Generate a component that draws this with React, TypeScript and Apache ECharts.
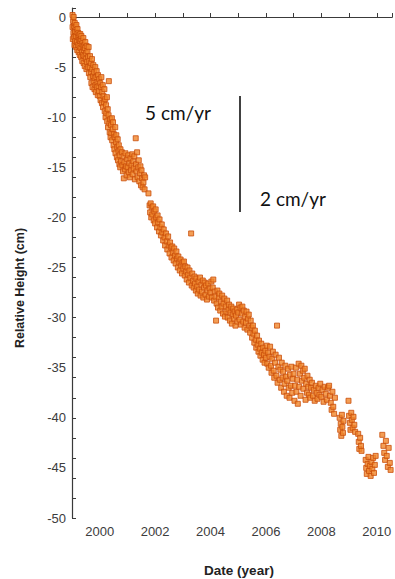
import React, { useEffect, useRef } from 'react';
import * as echarts from 'echarts';

// [year, relative height (cm)]
const samples1999: [number, number][] = [
  [1999.02, 0.2], [1999.02, -1.0], [1999.03, -2.2], [1999.04, -0.4], [1999.05, -1.6], [1999.06, 0.0],
  [1999.07, -0.9], [1999.08, -2.0], [1999.09, -2.8], [1999.10, -0.6], [1999.11, -1.4], [1999.12, -2.4],
  [1999.13, -1.0], [1999.14, -1.9], [1999.15, -3.0], [1999.16, -0.8], [1999.17, -1.5], [1999.18, -2.5],
  [1999.19, -3.3], [1999.20, -1.2], [1999.21, -2.0], [1999.22, -2.8], [1999.23, -1.6], [1999.24, -3.5],
  [1999.25, -2.3], [1999.26, -1.8], [1999.27, -2.9], [1999.28, -3.8], [1999.29, -2.4], [1999.30, -1.7],
  [1999.31, -3.1], [1999.32, -2.2], [1999.33, -4.0], [1999.34, -1.9], [1999.35, -2.7], [1999.36, -3.5],
  [1999.37, -4.4], [1999.38, -2.4], [1999.39, -3.0], [1999.40, -3.8], [1999.41, -2.1], [1999.42, -4.6],
  [1999.43, -3.3], [1999.44, -2.8], [1999.45, -3.9], [1999.46, -4.9], [1999.47, -3.1], [1999.48, -2.5],
  [1999.50, -4.2], [1999.51, -3.6], [1999.52, -5.2], [1999.53, -2.9], [1999.54, -4.5], [1999.56, -3.4],
  [1999.57, -5.0], [1999.58, -4.0], [1999.60, -3.0], [1999.61, -5.6], [1999.62, -4.4],
  [1999.64, -5.0], [1999.65, -3.9], [1999.66, -6.0], [1999.68, -4.6], [1999.69, -5.5], [1999.70, -6.6],
  [1999.72, -4.2], [1999.73, -5.2], [1999.74, -7.0], [1999.76, -5.9], [1999.77, -4.8], [1999.78, -6.4],
  [1999.80, -5.5], [1999.81, -7.2], [1999.82, -6.1], [1999.84, -5.0], [1999.85, -6.8], [1999.86, -7.5],
  [1999.88, -6.0], [1999.89, -5.4], [1999.90, -7.0], [1999.92, -6.5], [1999.93, -7.8], [1999.94, -5.8],
  [1999.96, -6.9], [1999.97, -7.4], [1999.98, -6.2],
];

const samples2000: [number, number][] = [
  [2000.00, -7.9], [2000.02, -6.6], [2000.03, -8.3], [2000.05, -7.0], [2000.06, -6.0], [2000.08, -8.6],
  [2000.09, -7.5], [2000.11, -6.8], [2000.12, -9.0], [2000.14, -7.9], [2000.15, -8.5], [2000.17, -7.2],
  [2000.18, -9.4], [2000.20, -8.2], [2000.21, -10.0], [2000.23, -8.8], [2000.24, -9.6], [2000.26, -8.0],
  [2000.27, -10.4], [2000.29, -9.2], [2000.30, -11.0], [2000.32, -9.8], [2000.33, -6.4], [2000.35, -10.6],
  [2000.36, -11.5], [2000.38, -10.2], [2000.39, -12.0],
  [2000.41, -10.8], [2000.42, -11.6], [2000.44, -10.1], [2000.45, -12.3], [2000.47, -11.2], [2000.48, -10.5],
  [2000.50, -12.8], [2000.51, -11.7], [2000.53, -13.2], [2000.54, -12.0], [2000.56, -11.0], [2000.57, -13.6],
  [2000.59, -12.5], [2000.60, -11.8], [2000.62, -14.0], [2000.63, -13.0], [2000.65, -12.2], [2000.66, -14.3],
  [2000.68, -13.4], [2000.69, -12.8], [2000.71, -14.7], [2000.72, -13.8], [2000.74, -15.0], [2000.75, -13.2],
  [2000.77, -14.4], [2000.80, -13.5], [2000.82, -14.8], [2000.84, -15.4], [2000.86, -13.9], [2000.87, -16.1],
  [2000.89, -14.5], [2000.91, -15.2], [2000.93, -13.6], [2000.95, -14.9], [2000.97, -15.8], [2000.99, -14.2],
];

const samples2001: [number, number][] = [
  [2001.01, -15.0], [2001.03, -13.8], [2001.05, -15.5], [2001.07, -14.6], [2001.09, -16.0], [2001.11, -14.1],
  [2001.13, -15.3], [2001.15, -14.8], [2001.17, -13.7], [2001.19, -15.7], [2001.21, -14.4], [2001.23, -15.1],
  [2001.25, -13.9], [2001.27, -16.2], [2001.30, -12.1], [2001.31, -14.7], [2001.33, -15.4], [2001.35, -13.5],
  [2001.37, -16.0], [2001.39, -15.0], [2001.41, -14.3], [2001.43, -16.4], [2001.45, -15.6], [2001.47, -14.9],
  [2001.49, -16.8], [2001.51, -15.3], [2001.53, -16.1], [2001.55, -17.0], [2001.58, -16.5], [2001.60, -15.8],
  [2001.62, -17.2], [2001.64, -16.0], [2001.76, -17.6],
  [2001.80, -18.8], [2001.82, -19.5], [2001.84, -18.6], [2001.86, -20.0], [2001.88, -19.0], [2001.90, -19.7],
  [2001.93, -18.9], [2001.95, -20.3], [2001.97, -19.4],
];

const samples2002: [number, number][] = [
  [2002.00, -20.6], [2002.02, -19.2], [2002.04, -20.0], [2002.07, -21.0], [2002.09, -19.8], [2002.11, -20.5],
  [2002.14, -21.4], [2002.16, -20.2], [2002.19, -21.0], [2002.21, -21.8], [2002.24, -20.7], [2002.26, -21.5],
  [2002.29, -22.3], [2002.31, -21.2], [2002.34, -22.0], [2002.36, -22.8], [2002.39, -21.6],
  [2002.42, -22.4], [2002.44, -23.2], [2002.47, -21.9], [2002.49, -22.8], [2002.52, -23.6], [2002.54, -22.5],
  [2002.57, -23.0], [2002.59, -24.0], [2002.62, -22.9], [2002.64, -23.5], [2002.67, -24.3], [2002.69, -23.1],
  [2002.72, -23.8], [2002.74, -24.6], [2002.77, -23.4], [2002.79, -24.1], [2002.82, -25.0], [2002.84, -23.9],
  [2002.87, -24.5], [2002.89, -25.3], [2002.92, -24.2], [2002.94, -24.8], [2002.97, -25.6], [2002.99, -24.5],
];

const samples2003: [number, number][] = [
  [2003.02, -25.1], [2003.04, -24.4], [2003.07, -25.8], [2003.09, -24.9], [2003.12, -25.4], [2003.14, -26.2],
  [2003.17, -25.0], [2003.19, -25.7], [2003.22, -26.5], [2003.24, -25.3], [2003.27, -26.0], [2003.30, -21.6],
  [2003.32, -26.8], [2003.34, -25.6], [2003.37, -26.3], [2003.39, -27.0], [2003.42, -25.9], [2003.44, -26.6],
  [2003.47, -27.3], [2003.49, -26.1], [2003.52, -26.9], [2003.54, -27.6], [2003.57, -26.4], [2003.59, -27.2],
  [2003.62, -26.0], [2003.64, -27.8], [2003.67, -26.7], [2003.69, -27.4], [2003.72, -26.3], [2003.74, -28.0],
  [2003.77, -27.0], [2003.79, -26.5], [2003.82, -27.7], [2003.84, -26.8], [2003.87, -28.2], [2003.89, -27.3],
  [2003.92, -26.6], [2003.94, -27.9], [2003.97, -27.1],
];

const samples2004: [number, number][] = [
  [2004.00, -27.5], [2004.03, -26.4], [2004.05, -28.0], [2004.08, -27.0], [2004.10, -26.2], [2004.13, -28.3],
  [2004.15, -27.4], [2004.18, -27.9], [2004.20, -30.3], [2004.22, -28.6], [2004.25, -27.3], [2004.27, -29.0],
  [2004.30, -28.0], [2004.32, -27.6], [2004.35, -29.3], [2004.37, -28.4], [2004.40, -28.9], [2004.42, -27.8],
  [2004.45, -29.6], [2004.47, -28.6], [2004.50, -28.1], [2004.52, -29.9], [2004.55, -28.9], [2004.57, -29.4],
  [2004.60, -28.3], [2004.62, -30.0], [2004.65, -29.2], [2004.67, -28.7], [2004.70, -30.3], [2004.72, -29.5],
  [2004.75, -28.9], [2004.77, -30.6], [2004.80, -29.7], [2004.82, -29.1], [2004.85, -30.1], [2004.87, -29.4],
  [2004.90, -30.8], [2004.92, -29.8], [2004.95, -29.2], [2004.97, -30.4],
];

const samples2005: [number, number][] = [
  [2005.00, -29.5], [2005.03, -28.7], [2005.05, -30.2], [2005.08, -29.0], [2005.10, -30.7], [2005.13, -29.6],
  [2005.15, -28.9], [2005.18, -30.4], [2005.20, -29.3], [2005.23, -31.0], [2005.25, -29.9], [2005.28, -30.5],
  [2005.30, -29.4], [2005.33, -31.2], [2005.35, -30.1], [2005.38, -29.7], [2005.40, -30.8], [2005.43, -31.5],
  [2005.45, -30.3], [2005.48, -31.0], [2005.50, -32.0], [2005.53, -30.8], [2005.55, -31.6], [2005.58, -32.5],
  [2005.60, -31.3], [2005.63, -32.2], [2005.65, -33.0], [2005.68, -31.8], [2005.70, -32.7], [2005.73, -33.4],
  [2005.75, -32.3], [2005.78, -33.1], [2005.80, -33.8], [2005.83, -32.6], [2005.85, -33.5], [2005.88, -34.2],
  [2005.90, -33.0], [2005.93, -33.7], [2005.95, -34.5], [2005.98, -33.3],
];

const samples2006: [number, number][] = [
  [2006.00, -34.0], [2006.03, -32.8], [2006.05, -34.6], [2006.08, -33.5], [2006.10, -35.0], [2006.13, -33.9],
  [2006.15, -32.9], [2006.18, -34.8], [2006.20, -35.5], [2006.23, -34.1], [2006.25, -33.4], [2006.28, -35.3],
  [2006.30, -36.0], [2006.33, -34.5], [2006.35, -33.7], [2006.38, -35.8], [2006.40, -30.8], [2006.42, -36.5],
  [2006.45, -34.9], [2006.47, -34.0], [2006.50, -36.2], [2006.52, -35.2], [2006.55, -37.0], [2006.57, -34.5],
  [2006.60, -36.0], [2006.62, -35.4], [2006.65, -37.4], [2006.67, -36.6], [2006.70, -34.8], [2006.72, -35.9],
  [2006.75, -37.8], [2006.77, -36.3], [2006.80, -35.1], [2006.82, -37.0], [2006.85, -38.0], [2006.87, -35.7],
  [2006.90, -36.8], [2006.92, -34.9], [2006.95, -37.5], [2006.97, -36.1],
];

const samples2007: [number, number][] = [
  [2007.00, -35.6], [2007.03, -38.3], [2007.05, -36.8], [2007.08, -35.0], [2007.10, -37.4], [2007.13, -36.2],
  [2007.15, -38.6], [2007.18, -34.6], [2007.20, -36.9], [2007.23, -35.6], [2007.25, -37.8], [2007.28, -34.8],
  [2007.30, -36.3], [2007.33, -35.3], [2007.35, -37.1], [2007.38, -36.0], [2007.40, -35.1], [2007.43, -38.2],
  [2007.45, -36.6], [2007.48, -37.5], [2007.50, -35.8], [2007.53, -36.9], [2007.55, -37.7], [2007.58, -36.2],
  [2007.60, -38.0], [2007.63, -37.0], [2007.66, -36.5], [2007.70, -37.8], [2007.73, -37.2], [2007.76, -38.3],
  [2007.80, -36.8], [2007.83, -37.5], [2007.86, -38.1], [2007.90, -37.0], [2007.93, -37.7], [2007.96, -36.6],
];

const samples2008: [number, number][] = [
  [2008.00, -37.9], [2008.04, -37.2], [2008.08, -38.4], [2008.12, -36.9], [2008.16, -37.6], [2008.20, -38.2],
  [2008.24, -37.0], [2008.28, -36.8], [2008.31, -37.8], [2008.34, -38.5], [2008.37, -39.2], [2008.40, -37.4],
  [2008.43, -38.9], [2008.46, -39.6], [2008.49, -38.0],
  [2008.66, -40.0], [2008.68, -41.2], [2008.70, -40.6], [2008.72, -41.8], [2008.74, -39.7], [2008.76, -40.9],
  [2008.78, -41.5], [2008.80, -40.3], [2008.98, -38.3],
];

const samples2009: [number, number][] = [
  [2009.00, -39.8], [2009.03, -40.5], [2009.05, -41.2], [2009.08, -39.5], [2009.10, -40.2], [2009.13, -41.0],
  [2009.16, -39.9], [2009.19, -40.7], [2009.22, -41.4],
  [2009.33, -41.6], [2009.35, -42.4], [2009.37, -43.1], [2009.40, -42.0], [2009.43, -42.8], [2009.45, -43.3],
  [2009.60, -44.2], [2009.62, -45.0], [2009.64, -45.6], [2009.67, -44.6], [2009.70, -43.9], [2009.72, -45.3],
  [2009.75, -44.8], [2009.78, -45.8], [2009.81, -44.4], [2009.84, -45.1], [2009.87, -44.0], [2009.90, -45.5],
  [2009.93, -44.7], [2009.96, -43.8],
];

const samples2010: [number, number][] = [
  [2010.20, -41.7], [2010.24, -42.8], [2010.27, -43.5], [2010.30, -44.2], [2010.33, -42.3], [2010.36, -43.8],
  [2010.40, -44.9], [2010.43, -43.0], [2010.47, -44.5], [2010.50, -45.2],
];

const yTickLabels = [0, -5, -10, -15, -20, -25, -30, -35, -40, -45, -50];
const xTickLabels = [2000, 2002, 2004, 2006, 2008, 2010];

const yAxisTitle = 'Relative Height (cm)';
const xAxisTitle = 'Date (year)';
const rateLabels = ['5 cm/yr', '2 cm/yr'];

const AXIS_COLOR = '#3a3a3a';
const LABEL_COLOR = '#3c3c3c';
const X_MIN = 1999;
const X_MAX = 2010.55;

export default function App() {
  const ref = useRef<HTMLDivElement>(null);

  useEffect(() => {
    document.body.style.margin = '0';
    if (!ref.current) return;
    const chart = echarts.init(ref.current, undefined, { renderer: 'svg' });
    const data = [
      ...samples1999, ...samples2000, ...samples2001, ...samples2002, ...samples2003,
      ...samples2004, ...samples2005, ...samples2006, ...samples2007, ...samples2008,
      ...samples2009, ...samples2010,
    ];
    const option: any = {
      animation: false,
      backgroundColor: '#ffffff',
      grid: { left: 72, right: 0, top: 8, bottom: 61, containLabel: false },
      xAxis: [
        {
          type: 'value',
          position: 'bottom',
          min: X_MIN,
          max: X_MAX,
          interval: 1,
          axisLine: { show: true, lineStyle: { color: AXIS_COLOR, width: 1.2 } },
          axisTick: { show: true, inside: true, length: 4, lineStyle: { color: AXIS_COLOR, width: 1 } },
          axisLabel: {
            formatter: (v: number) => (xTickLabels.includes(Math.round(v * 1000) / 1000) ? String(Math.round(v)) : ''),
            color: LABEL_COLOR,
            fontSize: 13,
            fontFamily: 'Liberation Sans, Arial, sans-serif',
            margin: 7,
          },
          splitLine: { show: false },
        },
        {
          type: 'value',
          position: 'top',
          min: X_MIN,
          max: X_MAX,
          axisLine: { show: true, lineStyle: { color: AXIS_COLOR, width: 1.2 } },
          axisTick: { show: false },
          axisLabel: { show: false },
          splitLine: { show: false },
        },
      ],
      yAxis: [
        {
          type: 'value',
          position: 'left',
          min: -50,
          max: 0.9,
          interval: 2,
          axisLine: { show: true, lineStyle: { color: AXIS_COLOR, width: 1.2 } },
          axisTick: { show: true, inside: true, length: 4, lineStyle: { color: AXIS_COLOR, width: 1 } },
          axisLabel: { show: false },
          splitLine: { show: false },
        },
        {
          type: 'value',
          position: 'left',
          min: -50,
          max: 0.9,
          interval: 5,
          axisLine: { show: false },
          axisTick: { show: false },
          axisLabel: {
            formatter: (v: number) => (yTickLabels.includes(Math.round(v * 1000) / 1000) ? String(Math.round(v)) : ''),
            color: LABEL_COLOR,
            fontSize: 13,
            fontFamily: 'Liberation Sans, Arial, sans-serif',
            margin: 6,
          },
          splitLine: { show: false },
        },
      ],
      series: [
        {
          type: 'scatter',
          xAxisIndex: 0,
          yAxisIndex: 0,
          data,
          symbol: 'rect',
          symbolSize: 5,
          itemStyle: { color: '#F0862A', borderColor: '#C94E0A', borderWidth: 1 },
        },
      ],
      graphic: [
        {
          type: 'text',
          x: 19.5,
          y: 288,
          rotation: Math.PI / 2,
          style: {
            text: yAxisTitle,
            align: 'center',
            verticalAlign: 'middle',
            font: 'bold 12.5px "Liberation Sans", Arial, sans-serif',
            fill: '#222',
          },
        },
        {
          type: 'text',
          x: 239,
          y: 570,
          style: {
            text: xAxisTitle,
            align: 'center',
            verticalAlign: 'middle',
            font: 'bold 13.5px "Liberation Sans", Arial, sans-serif',
            fill: '#222',
          },
        },
        {
          type: 'text',
          x: 145,
          y: 112,
          style: {
            text: rateLabels[0],
            align: 'left',
            verticalAlign: 'middle',
            font: '19px Lato, "Open Sans", sans-serif',
            fill: '#111',
          },
        },
        {
          type: 'text',
          x: 260,
          y: 198,
          style: {
            text: rateLabels[1],
            align: 'left',
            verticalAlign: 'middle',
            font: '19px Lato, "Open Sans", sans-serif',
            fill: '#111',
          },
        },
        {
          type: 'line',
          shape: { x1: 240, y1: 96, x2: 240, y2: 212 },
          style: { stroke: '#111', lineWidth: 1.6 },
        },
      ],
    };
    chart.setOption(option);
    return () => chart.dispose();
  }, []);

  return <div ref={ref} style={{ width: 395, height: 579 }} />;
}
